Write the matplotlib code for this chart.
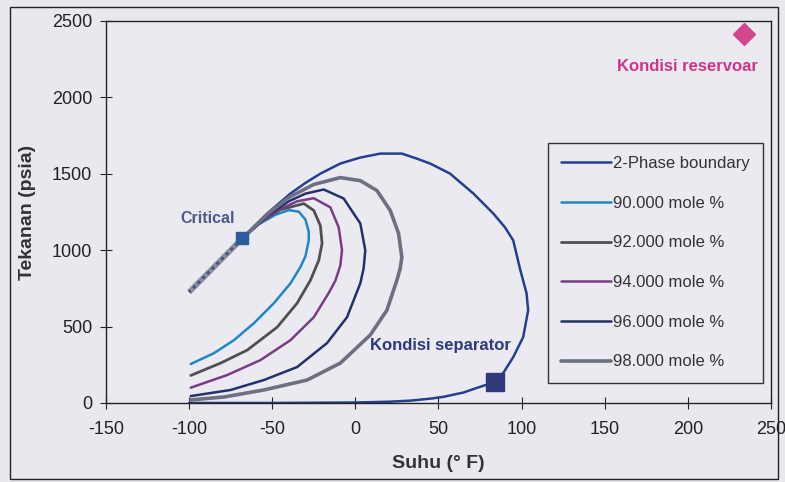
import numpy as np
import matplotlib.pyplot as plt
from matplotlib.patches import Rectangle

plt.rcParams['font.family'] = ['Liberation Sans', 'DejaVu Sans']
plt.rcParams['axes.unicode_minus'] = False

# Amplop fasa: suhu (F) dan tekanan (psia)
boundary_T = [-100, -50, 0, 20, 33, 45, 53, 65, 73, 84, 89, 95, 101, 104, 103, 99, 95, 90, 83, 71,
              57, 45, 37, 28, 15, 3, -9, -21, -30, -39, -53, -68]
boundary_P = [0, 0, 3, 8, 15, 28, 40, 68, 98, 137, 196, 300, 431, 607, 718, 881, 1064, 1150, 1240, 1371,
              1501, 1567, 1599, 1632, 1632, 1606, 1567, 1501, 1440, 1371, 1240, 1077]
bubble_T = [-68, -100]
bubble_P = [1077, 725]

q90_T = [-68, -58, -48, -40, -34, -30, -28, -28, -30, -33, -39, -49, -61, -73, -85, -99]
q90_P = [1077, 1170, 1232, 1262, 1252, 1200, 1120, 1064, 960, 890, 783, 653, 522, 411, 326, 255]
q92_T = [-68, -57, -45, -31, -25, -21, -20, -22, -27, -35, -47, -65, -81, -99]
q92_P = [1077, 1185, 1265, 1305, 1260, 1160, 1044, 933, 803, 653, 496, 346, 261, 180]
q94_T = [-68, -55, -45, -35, -25, -15, -10, -8, -9, -12, -16, -25, -39, -57, -77, -99]
q94_P = [1077, 1200, 1270, 1320, 1340, 1280, 1149, 1000, 900, 800, 720, 561, 411, 281, 183, 100]
q96_T = [-68, -53, -40, -30, -19, -7, -1, 3, 6, 5, 3, -5, -17, -35, -55, -75, -99]
q96_P = [1077, 1225, 1320, 1370, 1397, 1338, 1240, 1175, 1000, 880, 783, 561, 392, 235, 150, 85, 45]
q98_T = [-68, -53, -40, -25, -9, 3, 13, 21, 26, 28, 27, 25, 19, 9, -9, -29, -55, -79, -99]
q98_P = [1077, 1235, 1345, 1430, 1475, 1455, 1390, 1260, 1110, 953, 880, 803, 607, 445, 261, 150, 85, 39, 20]

critical = (-68, 1077)
separator = (84, 137)
reservoir = (234, 2415)

bg = '#e9e8ee'
fig = plt.figure(figsize=(7.85, 4.82), dpi=100, facecolor=bg)
ax = fig.add_axes([0.135, 0.164, 0.847, 0.7925])
ax.set_facecolor('#ebeaf0')

# garis bubble point (arsir)
ax.plot(bubble_T, bubble_P, color='#8a90a6', lw=4, solid_capstyle='butt')
ax.plot(bubble_T, bubble_P, color='#4c5272', lw=2, ls=(0, (1.2, 1.2)))

kw = dict(solid_joinstyle='round', solid_capstyle='round')
l0, = ax.plot(boundary_T, boundary_P, color='#23408e', lw=1.8, label='2-Phase boundary', **kw)
l1, = ax.plot(q90_T, q90_P, color='#1f86cc', lw=1.8, label='90.000 mole %', **kw)
l2, = ax.plot(q92_T, q92_P, color='#505050', lw=2.0, label='92.000 mole %', **kw)
l3, = ax.plot(q94_T, q94_P, color='#7a3c86', lw=1.8, label='94.000 mole %', **kw)
l4, = ax.plot(q96_T, q96_P, color='#25306e', lw=1.8, label='96.000 mole %', **kw)
l5, = ax.plot(q98_T, q98_P, color='#6c7080', lw=2.6, label='98.000 mole %', **kw)

ax.plot(*critical, marker='s', ms=9, color='#2d5c9a', ls='none')
ax.plot(*separator, marker='s', ms=13, color='#2f3a7a', ls='none')
ax.plot(*reservoir, marker='D', ms=11, color='#d4478e', ls='none')

ax.text(-89, 1208, 'Critical', fontsize=11.5, fontweight='bold', color='#4a5a8a',
        ha='center', va='center')
ax.text(9, 379, 'Kondisi separator', fontsize=12, fontweight='bold', color='#2b3a80',
        ha='left', va='center')
ax.text(200, 2200, 'Kondisi reservoar', fontsize=12, fontweight='bold', color='#d0348a',
        ha='center', va='center')

ax.set_xlim(-150, 250)
ax.set_ylim(0, 2500)
ax.set_xticks(np.arange(-150, 251, 50))
ax.set_yticks(np.arange(0, 2501, 500))
ax.tick_params(direction='inout', length=8, labelsize=13, colors='#222222')
ax.tick_params(axis='x', pad=9)
ax.tick_params(axis='y', pad=6)
for s in ax.spines.values():
    s.set_color('#222222')
    s.set_linewidth(1.0)

ax.set_xlabel('Suhu (° F)', fontsize=14, fontweight='bold', color='#333333', labelpad=12)
ax.set_ylabel('Tekanan (psia)', fontsize=14, fontweight='bold', color='#333333', labelpad=11)

leg = ax.legend(handles=[l0, l1, l2, l3, l4, l5], loc='upper left',
                bbox_to_anchor=(0.665, 0.681), fontsize=12, frameon=True, fancybox=False,
                edgecolor='#333333', facecolor='#ebeaf0', framealpha=1,
                handlelength=2.95, handletextpad=0.15, labelspacing=1.48,
                borderpad=0.8, borderaxespad=0)
leg.get_frame().set_linewidth(1.0)
for t in leg.get_texts():
    t.set_color('#333333')

# bingkai luar
fig.patches.append(Rectangle((10 / 785, 3 / 482), 768 / 785, 472 / 482, transform=fig.transFigure,
                             fill=False, edgecolor='#222222', lw=1.0))

fig.savefig('out.png', dpi=100, facecolor=bg)
